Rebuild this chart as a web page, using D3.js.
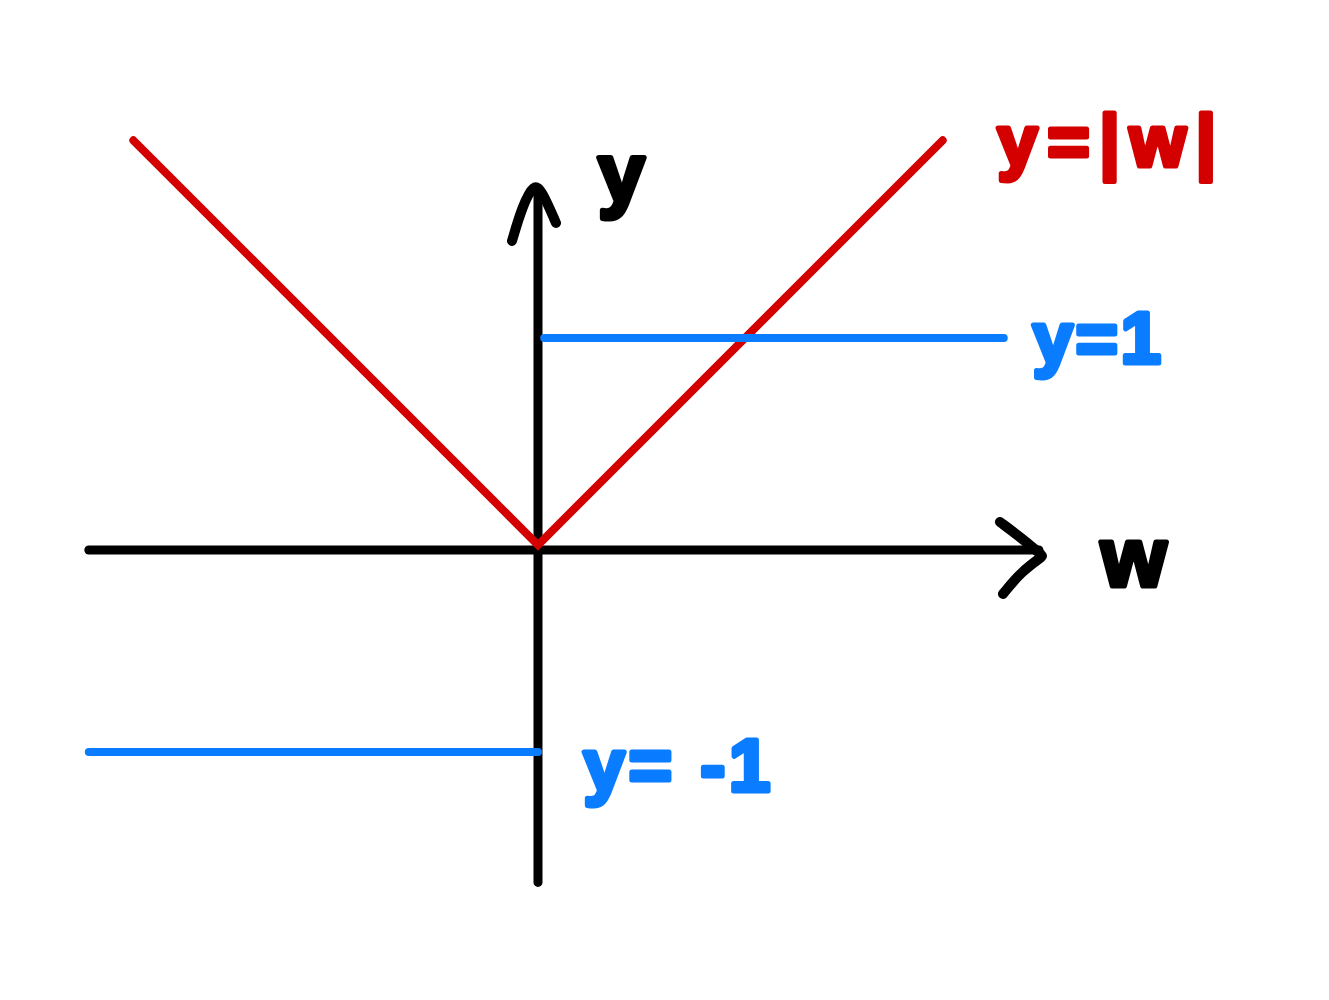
<!DOCTYPE html>
<html>
<head>
<meta charset="utf-8">
<script src="https://cdn.jsdelivr.net/npm/d3@7"></script>
<style>
  body { margin: 0; background: #fff; }
  text { font-family: "Liberation Sans", sans-serif; font-weight: bold; }
</style>
</head>
<body>
<div id="chart"></div>
<script>
// axis extents in data units (w, y)
var wAxis = [-2.17, 2.42];
var yAxis = [-1.63, 1.72];

// y = |w|
var absW = [-1.955, 0, 1.955];

// sign-like pieces
var stepSegments = [
    { w0: 0.03, w1: 2.25, y: 1 },
    { w0: -2.17, w1: 0, y: -1 }
];

var labels = [
    { text: "y=|w|", w: 2.22, y: 1.83, size: 72, spacing: 10, color: "#d40000" },
    { text: "y=1", w: 2.39, y: 0.88, size: 72, spacing: 3, color: "#0a7cff" },
    { text: "y= -1", w: 0.22, y: -1.19, size: 74, spacing: 4, color: "#0a7cff" },
    { text: "y", w: 0.29, y: 1.655, size: 84, spacing: 0, color: "#000" },
    { text: "w", w: 2.72, y: -0.2, size: 84, spacing: 0, color: "#000" }
];

var width = 1329;
var height = 1000;

var svg = d3.select("#chart")
            .append("svg")
            .attr("width", width)
            .attr("height", height);

// equal units on both axes
var x = d3.scaleLinear().domain([0, 1]).range([538, 745]);
var y = d3.scaleLinear().domain([0, 1]).range([545, 338]);

// axes
svg.append("line")
   .attr("x1", x(wAxis[0])).attr("x2", x(wAxis[1]))
   .attr("y1", y(0) + 5).attr("y2", y(0) + 5)
   .attr("stroke", "#000").attr("stroke-width", 9).attr("stroke-linecap", "round");

svg.append("line")
   .attr("x1", x(0)).attr("x2", x(0))
   .attr("y1", y(yAxis[0])).attr("y2", y(yAxis[1]))
   .attr("stroke", "#000").attr("stroke-width", 9).attr("stroke-linecap", "round");

// arrow heads, a bit hand-drawn
var arrowLine = d3.line().curve(d3.curveBasis);
var ax = x(wAxis[1]), ay = y(0) + 5;
svg.append("path")
   .attr("d", arrowLine([[ax - 39, ay - 28], [ax - 20, ay - 14], [ax + 4, ay + 6], [ax + 4, ay + 6], [ax - 18, ay + 22], [ax - 36, ay + 44]]))
   .attr("fill", "none").attr("stroke", "#000").attr("stroke-width", 10)
   .attr("stroke-linecap", "round").attr("stroke-linejoin", "round");

var tx = x(0), ty = y(yAxis[1]);
svg.append("path")
   .attr("d", arrowLine([[tx - 26, ty + 52], [tx - 16, ty + 18], [tx - 4, ty - 6], [tx + 4, ty + 2], [tx + 18, ty + 34]]))
   .attr("fill", "none").attr("stroke", "#000").attr("stroke-width", 10)
   .attr("stroke-linecap", "round").attr("stroke-linejoin", "round");

// y = |w|
svg.append("path")
   .datum(absW)
   .attr("d", d3.line().x(function(d) { return x(d); }).y(function(d) { return y(Math.abs(d)); }))
   .attr("fill", "none")
   .attr("stroke", "#d40000")
   .attr("stroke-width", 8)
   .attr("stroke-linecap", "round");

// y = 1 and y = -1
svg.selectAll("line.step")
   .data(stepSegments)
   .enter()
   .append("line")
   .attr("class", "step")
   .attr("x1", function(d) { return x(d.w0); })
   .attr("x2", function(d) { return x(d.w1); })
   .attr("y1", function(d) { return y(d.y); })
   .attr("y2", function(d) { return y(d.y); })
   .attr("stroke", "#0a7cff")
   .attr("stroke-width", 8)
   .attr("stroke-linecap", "round");

// labels
svg.selectAll("text.label")
   .data(labels)
   .enter()
   .append("text")
   .attr("class", "label")
   .attr("x", function(d) { return x(d.w); })
   .attr("y", function(d) { return y(d.y); })
   .attr("fill", function(d) { return d.color; })
   .attr("stroke", function(d) { return d.color; })
   .attr("stroke-width", 5)
   .attr("stroke-linejoin", "round")
   .attr("font-size", function(d) { return d.size; })
   .attr("letter-spacing", function(d) { return d.spacing; })
   .text(function(d) { return d.text; });
</script>
</body>
</html>
